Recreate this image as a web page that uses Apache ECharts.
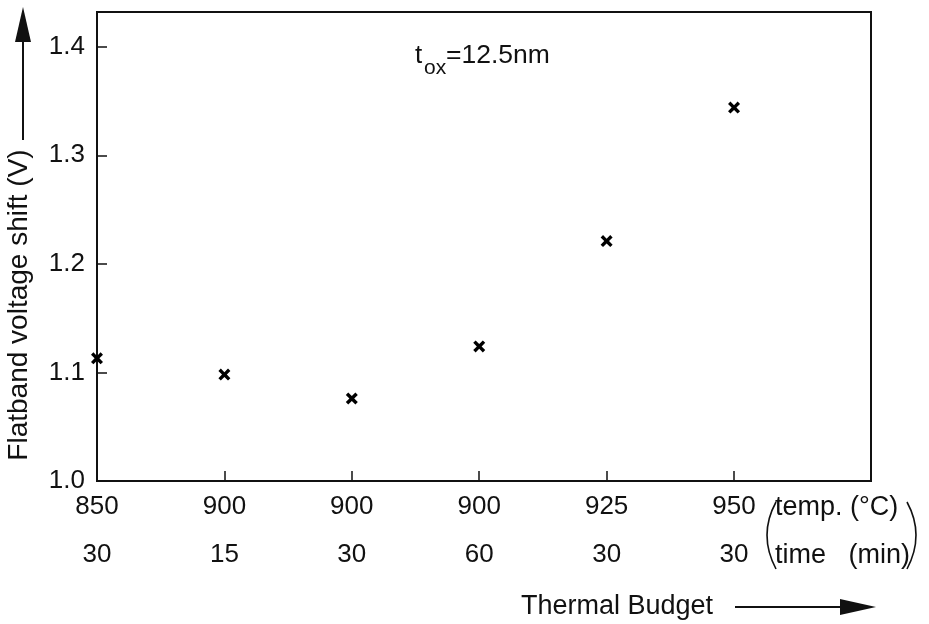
<!DOCTYPE html>
<html>
<head>
<meta charset="utf-8">
<script src="https://cdn.jsdelivr.net/npm/echarts@6/dist/echarts.min.js"></script>
<style>html,body{margin:0;padding:0;background:#fff;}#c{width:929px;height:624px;}</style>
</head>
<body>
<div id="c"></div>
<script>
// Data
const temps = ['850', '900', '900', '900', '925', '950'];
const times = ['30', '15', '30', '60', '30', '30'];
const shiftValues = [1.113, 1.098, 1.076, 1.124, 1.221, 1.344];
const yTicks = [1.0, 1.1, 1.2, 1.3, 1.4];

const FONT = '"Liberation Sans", Arial, Helvetica, sans-serif';
const INK = '#111';

const chart = echarts.init(document.getElementById('c'), null, {renderer: 'canvas'});
const xMarkPath = 'path://M0,2 L2,0 L5,3 L8,0 L10,2 L7,5 L10,8 L8,10 L5,7 L2,10 L0,8 L3,5 Z';

chart.setOption({
  animation: false,
  backgroundColor: '#fff',
  grid: {left: 97, right: 58, top: 12, bottom: 143, show: true, borderColor: INK, borderWidth: 2, backgroundColor: 'transparent'},
  xAxis: {
    type: 'value', min: 0, max: 6.075, interval: 1,
    splitLine: {show: false},
    axisLine: {lineStyle: {color: INK, width: 2}},
    axisTick: {inside: true, length: 10, lineStyle: {color: INK, width: 1.5}, customValues: [1, 2, 3, 4, 5]},
    axisLabel: {
      customValues: [0, 1, 2, 3, 4, 5],
      formatter: v => { const i = Math.round(v); return temps[i] + '\n' + times[i]; },
      color: INK, fontFamily: FONT, fontSize: 26, lineHeight: 48, margin: 2
    }
  },
  yAxis: {
    type: 'value', min: 1.0, max: 1.432, interval: 0.1,
    splitLine: {show: false},
    axisLine: {lineStyle: {color: INK, width: 2}},
    axisTick: {inside: true, length: 10, lineStyle: {color: INK, width: 1.5}, customValues: yTicks},
    axisLabel: {customValues: yTicks, formatter: v => v.toFixed(1), color: INK, fontFamily: FONT, fontSize: 26, margin: 12}
  },
  series: [{
    type: 'scatter',
    data: shiftValues.map((v, i) => [i, v]),
    symbol: xMarkPath,
    symbolSize: 12,
    itemStyle: {color: '#000', opacity: 1}
  }],
  graphic: [
    // y axis title + arrow
    {type: 'text', x: 19, y: 305, rotation: Math.PI / 2, style: {text: 'Flatband voltage shift (V)', font: '28px ' + FONT, fill: INK, align: 'center', verticalAlign: 'middle'}},
    {type: 'line', shape: {x1: 23, y1: 140, x2: 23, y2: 30}, style: {stroke: INK, lineWidth: 2}},
    {type: 'polygon', shape: {points: [[23, 7], [15, 42], [31, 42]]}, style: {fill: INK}},
    // t_ox annotation
    {type: 'text', x: 415, y: 69, style: {text: 't', font: '26px ' + FONT, fill: INK, verticalAlign: 'bottom'}},
    {type: 'text', x: 424, y: 79, style: {text: 'ox', font: '21px ' + FONT, fill: INK, verticalAlign: 'bottom'}},
    {type: 'text', x: 446, y: 69, style: {text: '=12.5nm', font: '26.5px ' + FONT, fill: INK, verticalAlign: 'bottom'}},
    // legend of x labels
    {type: 'text', x: 775, y: 508, style: {text: 'temp. (°C)', font: '27px ' + FONT, fill: INK, verticalAlign: 'middle'}},
    {type: 'text', x: 775, y: 556, style: {text: 'time   (min)', font: '27px ' + FONT, fill: INK, verticalAlign: 'middle'}},
    {type: 'bezierCurve', shape: {x1: 776, y1: 502, cpx1: 758, cpy1: 535, x2: 776, y2: 569}, style: {stroke: INK, lineWidth: 1.6, fill: null}},
    {type: 'bezierCurve', shape: {x1: 907, y1: 502, cpx1: 925, cpy1: 535, x2: 907, y2: 569}, style: {stroke: INK, lineWidth: 1.6, fill: null}},
    // x title + arrow
    {type: 'text', x: 521, y: 607, style: {text: 'Thermal Budget', font: '27px ' + FONT, fill: INK, verticalAlign: 'middle'}},
    {type: 'line', shape: {x1: 735, y1: 607, x2: 850, y2: 607}, style: {stroke: INK, lineWidth: 2}},
    {type: 'polygon', shape: {points: [[876, 607], [840, 599], [840, 615]]}, style: {fill: INK}}
  ]
});
</script>
</body>
</html>
